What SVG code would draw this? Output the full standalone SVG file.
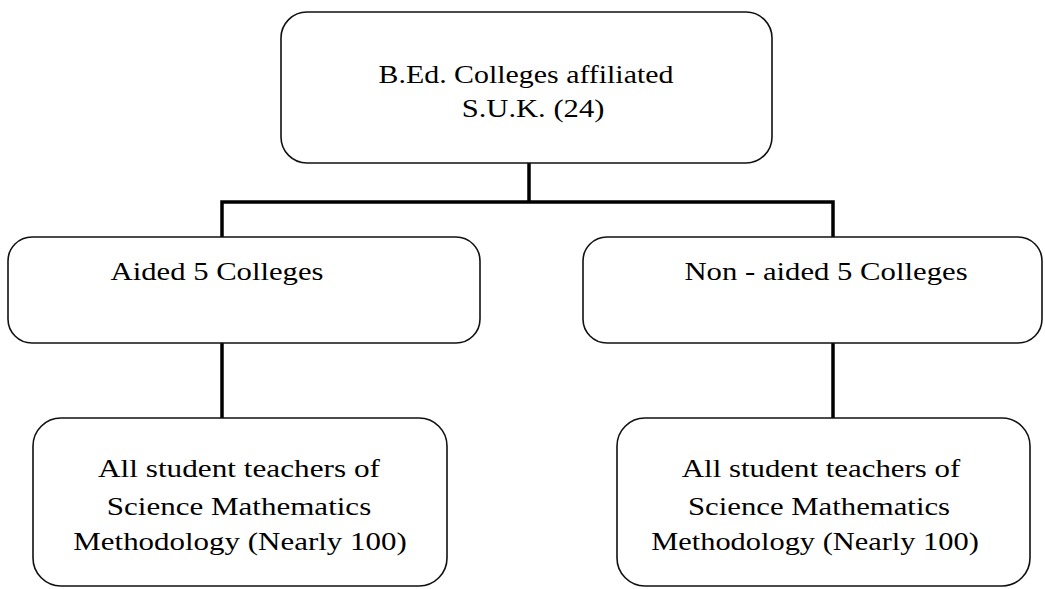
<svg xmlns="http://www.w3.org/2000/svg" width="1045" height="589" viewBox="0 0 1045 589">
<style>
.box{fill:#fff;stroke:#111;stroke-width:1.6}
.con{fill:none;stroke:#000;stroke-width:3.5}
text{font-family:"Liberation Serif","Times New Roman",serif;font-size:26px;fill:#000;text-anchor:middle}
</style>
<rect width="1045" height="589" fill="#fff"/>
<g id="connectors">
<path class="con" d="M529 163V202"/>
<path class="con" d="M222 237V202H833V237"/>
<path class="con" d="M222 343V418"/>
<path class="con" d="M833 343V418"/>
</g>
<g id="root">
<rect class="box" x="281" y="12" width="491" height="151" rx="26"/>
<text transform="translate(526 83) scale(1.17 1)" textLength="252" lengthAdjust="spacingAndGlyphs">B.Ed. Colleges affiliated</text>
<text transform="translate(533 117) scale(1.17 1)" textLength="122" lengthAdjust="spacingAndGlyphs">S.U.K. (24)</text>
</g>
<g id="aided">
<rect class="box" x="8" y="237" width="472" height="106" rx="24"/>
<text transform="translate(217 280) scale(1.17 1)" textLength="182" lengthAdjust="spacingAndGlyphs">Aided 5 Colleges</text>
</g>
<g id="nonaided">
<rect class="box" x="583" y="237" width="459" height="106" rx="24"/>
<text transform="translate(826 280) scale(1.17 1)" textLength="242" lengthAdjust="spacingAndGlyphs">Non - aided 5 Colleges</text>
</g>
<g id="aided-students">
<rect class="box" x="33" y="418" width="414" height="168" rx="28"/>
<text transform="translate(239 477) scale(1.17 1)" textLength="241" lengthAdjust="spacingAndGlyphs">All student teachers of</text>
<text transform="translate(239 515) scale(1.17 1)" textLength="226" lengthAdjust="spacingAndGlyphs">Science Mathematics</text>
<text transform="translate(240 550) scale(1.17 1)" textLength="285" lengthAdjust="spacingAndGlyphs">Methodology (Nearly 100)</text>
</g>
<g id="nonaided-students">
<rect class="box" x="617" y="418" width="413" height="168" rx="28"/>
<text transform="translate(821 477) scale(1.17 1)" textLength="238" lengthAdjust="spacingAndGlyphs">All student teachers of</text>
<text transform="translate(819 515) scale(1.17 1)" textLength="224" lengthAdjust="spacingAndGlyphs">Science Mathematics</text>
<text transform="translate(815 550) scale(1.17 1)" textLength="280" lengthAdjust="spacingAndGlyphs">Methodology (Nearly 100)</text>
</g>
</svg>
